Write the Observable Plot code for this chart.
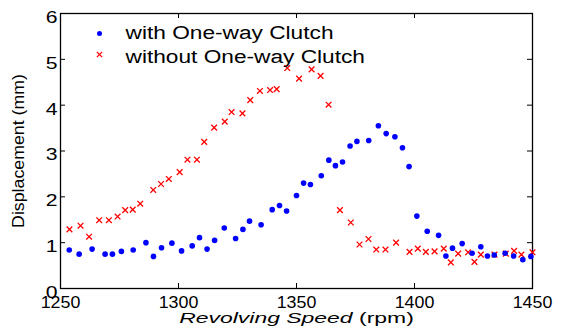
<!DOCTYPE html>
<html><head><meta charset="utf-8">
<script src="https://cdn.jsdelivr.net/npm/d3@7"></script>
<script src="https://cdn.jsdelivr.net/npm/@observablehq/plot@0.6"></script>
<style>body{margin:0;background:#fff}#chart{width:569px;height:336px}</style>
</head><body><div id="chart"></div>
<script>
// ---- data ----
const withRpm = [1253.7,1257.9,1263.4,1268.9,1272.0,1275.8,1280.8,1286.2,1289.4,1292.8,1297.2,1301.3,1305.8,1308.9,1312.1,1315.3,1319.4,1324.2,1327.3,1330.1,1335.0,1339.7,1342.8,1345.8,1350.0,1353.0,1355.9,1360.5,1363.7,1366.5,1369.5,1372.7,1375.6,1380.6,1384.7,1388.0,1391.7,1394.9,1397.7,1401.0,1405.4,1410.2,1413.3,1416.1,1420.2,1424.4,1428.1,1430.9,1433.8,1438.4,1442.0,1445.9,1449.3];
const withDisp = [0.84,0.75,0.86,0.75,0.75,0.81,0.84,1.00,0.70,0.89,0.99,0.82,0.93,1.11,0.86,1.05,1.32,1.09,1.29,1.47,1.39,1.72,1.81,1.69,2.03,2.30,2.27,2.46,2.80,2.68,2.76,3.11,3.21,3.23,3.55,3.38,3.31,3.07,2.66,1.58,1.25,1.16,0.71,0.88,0.98,0.77,0.91,0.71,0.73,0.77,0.71,0.63,0.70];
const withoutRpm = [1253.8,1258.5,1262.1,1266.4,1270.5,1274.2,1277.4,1280.6,1283.8,1289.3,1292.6,1295.9,1300.5,1303.8,1307.8,1310.9,1315.1,1319.6,1322.5,1327.1,1330.4,1334.5,1338.8,1341.6,1346.1,1351.1,1356.4,1360.2,1363.6,1368.4,1373.0,1376.7,1380.5,1383.8,1387.7,1392.2,1397.9,1401.4,1404.8,1408.5,1412.4,1415.4,1418.5,1422.7,1425.4,1428.1,1433.9,1438.7,1442.2,1445.3,1450.0];
const withoutDisp = [1.29,1.37,1.13,1.49,1.49,1.57,1.71,1.72,1.85,2.15,2.28,2.39,2.54,2.81,2.81,3.20,3.51,3.64,3.85,3.82,4.11,4.31,4.33,4.35,4.81,4.58,4.78,4.64,4.01,1.71,1.44,0.96,1.08,0.85,0.85,1.00,0.80,0.87,0.80,0.81,0.87,0.57,0.76,0.79,0.58,0.74,0.74,0.76,0.82,0.74,0.79];
const xTicks = [1250,1300,1350,1400,1450];
const yTicks = [0,1,2,3,4,5,6];
const seriesNames = ["with One-way Clutch","without One-way Clutch"];
const xLabelParts = ["Revolving Speed", " (rpm)"];
const yLabel = "Displacement (mm)";

// ---- layout / style ----
const W = 569, H = 336, mL = 60, mR = 37, mT = 13, mB = 48;
const innerW = W - mL - mR, innerH = H - mT - mB, tk = 5;
const blue = "#0000ff", red = "#ff0000";
const font = "'Liberation Sans', Arial, Helvetica, sans-serif";

const withData = withRpm.map((x, i) => ({x, y: withDisp[i]}));
const withoutData = withoutRpm.map((x, i) => ({x, y: withoutDisp[i]}));

const chart = Plot.plot({
  width: W, height: H,
  marginLeft: mL, marginRight: mR, marginTop: mT, marginBottom: mB,
  style: {fontFamily: font, fontSize: "16px", color: "black", background: "white", overflow: "visible"},
  x: {domain: [xTicks[0], xTicks[xTicks.length - 1]]},
  y: {domain: [yTicks[0], yTicks[yTicks.length - 1]]},
  marks: [
    Plot.tickX(xTicks, {x: d => d, insetTop: innerH - tk, stroke: "black", strokeWidth: 1}),
    Plot.tickX(xTicks, {x: d => d, insetBottom: innerH - tk, stroke: "black", strokeWidth: 1}),
    Plot.tickY(yTicks, {y: d => d, insetRight: innerW - tk, stroke: "black", strokeWidth: 1}),
    Plot.tickY(yTicks, {y: d => d, insetLeft: innerW - tk, stroke: "black", strokeWidth: 1}),
    Plot.frame({stroke: "black", strokeWidth: 1.3}),
    Plot.axisX({ticks: xTicks, tickSize: 0, tickPadding: 8, fontSize: 16.5, label: null, tickFormat: d => String(d)}),
    Plot.axisY({ticks: yTicks, tickSize: 0, tickPadding: 3, fontSize: 17, dy: 4, label: null, tickFormat: d => String(d)}),
    Plot.dot(withoutData, {x: "x", y: "y", symbol: "times", r: 2.7, stroke: red, strokeWidth: 1.3}),
    Plot.dot(withData, {x: "x", y: "y", r: 2.8, fill: blue, stroke: null}),
    // legend
    Plot.dot([seriesNames[0]], {frameAnchor: "top-left", dx: 39, dy: 20, r: 2.5, fill: blue, stroke: null}),
    Plot.dot([seriesNames[1]], {frameAnchor: "top-left", dx: 39, dy: 41, symbol: "times", r: 2.5, stroke: red, strokeWidth: 1.3}),
    Plot.text([seriesNames[0]], {text: d => d, frameAnchor: "top-left", dx: 65, dy: 25.5, textAnchor: "start", lineAnchor: "bottom", fontSize: 18, fill: "black"}),
    Plot.text([seriesNames[1]], {text: d => d, frameAnchor: "top-left", dx: 65, dy: 49.5, textAnchor: "start", lineAnchor: "bottom", fontSize: 18, fill: "black"}),
    // axis titles
    Plot.text([xLabelParts.join("")], {text: d => d, frameAnchor: "bottom", dy: 34, textAnchor: "middle", lineAnchor: "bottom", fontSize: 15.5, fill: "black"}),
    Plot.text([yLabel], {text: d => d, frameAnchor: "left", dx: -42, rotate: -90, textAnchor: "middle", lineAnchor: "middle", fontSize: 16, fill: "black"})
  ]
});
document.getElementById("chart").append(chart);

// ---- post-process text: italic part of x title, horizontal stretch like the reference ----
function stretch(t, f) {
  const len = t.getComputedTextLength();
  t.setAttribute("textLength", (len * f).toFixed(1));
  t.setAttribute("lengthAdjust", "spacingAndGlyphs");
}
const xt = new Set(xTicks.map(String)), yt = new Set(yTicks.map(String));
chart.querySelectorAll("text").forEach(t => {
  const s = t.textContent;
  if (s === xLabelParts.join("")) {
    t.textContent = "";
    const ns = "http://www.w3.org/2000/svg";
    const a = document.createElementNS(ns, "tspan"); a.setAttribute("font-style", "italic"); a.textContent = xLabelParts[0];
    const b = document.createElementNS(ns, "tspan"); b.textContent = xLabelParts[1];
    t.append(a, b);
    stretch(t, 1.48);
  } else if (s === yLabel) stretch(t, 1.11);
  else if (seriesNames.includes(s)) stretch(t, 1.26);
  else if (xt.has(s)) stretch(t, 1.08);
  else if (yt.has(s)) stretch(t, 1.25);
});
</script>
</body></html>
